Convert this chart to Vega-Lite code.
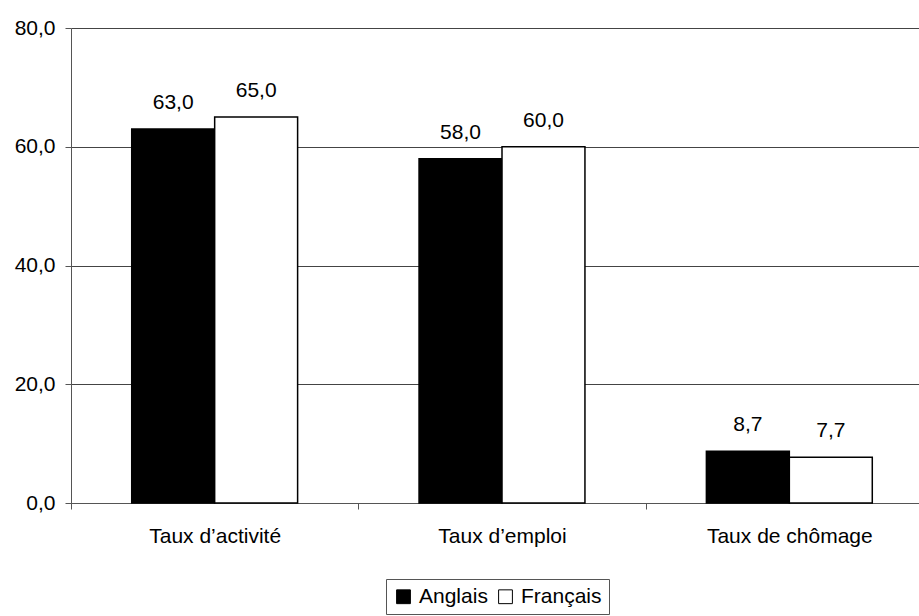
{
  "$schema": "https://vega.github.io/schema/vega-lite/v6.json",
  "width": 862,
  "height": 475,
  "autosize": {"type": "none"},
  "padding": {"left": 71, "top": 28, "right": 0, "bottom": 113},
  "background": "white",
  "config": {
    "locale": {"number": {"decimal": ",", "thousands": " ", "grouping": [3], "currency": ["", " €"]}},
    "view": {"stroke": null},
    "font": "Liberation Sans"
  },
  "data": {
    "values": [
      {"indicateur": "Taux d’activité", "groupe": "Anglais", "valeur": 63.0},
      {"indicateur": "Taux d’activité", "groupe": "Français", "valeur": 65.0},
      {"indicateur": "Taux d’emploi", "groupe": "Anglais", "valeur": 58.0},
      {"indicateur": "Taux d’emploi", "groupe": "Français", "valeur": 60.0},
      {"indicateur": "Taux de chômage", "groupe": "Anglais", "valeur": 8.7},
      {"indicateur": "Taux de chômage", "groupe": "Français", "valeur": 7.7}
    ]
  },
  "encoding": {
    "x": {
      "field": "indicateur",
      "type": "nominal",
      "sort": ["Taux d’activité", "Taux d’emploi", "Taux de chômage"],
      "scale": {"paddingInner": 0, "paddingOuter": 0},
      "axis": {
        "title": null,
        "labelAngle": 0,
        "tickBand": "extent",
        "ticks": true,
        "tickSize": 6,
        "tickColor": "#555555",
        "domainColor": "#555555",
        "labelFontSize": 21,
        "labelColor": "black",
        "labelPadding": 16,
        "grid": false
      }
    },
    "xOffset": {
      "field": "groupe",
      "type": "nominal",
      "sort": ["Anglais", "Français"],
      "scale": {"paddingInner": 0, "paddingOuter": 0.732}
    },
    "y": {
      "field": "valeur",
      "type": "quantitative",
      "scale": {"domain": [0, 80], "nice": false},
      "axis": {
        "title": null,
        "values": [0, 20, 40, 60, 80],
        "format": ".1f",
        "grid": true,
        "gridColor": "#444444",
        "gridOpacity": 1,
        "gridWidth": 1,
        "tickSize": 6,
        "tickColor": "#555555",
        "domainColor": "#555555",
        "labelFontSize": 21,
        "labelColor": "black",
        "labelPadding": 10
      }
    }
  },
  "layer": [
    {
      "mark": {"type": "bar", "stroke": "black", "strokeWidth": 1.5},
      "encoding": {
        "fill": {
          "field": "groupe",
          "type": "nominal",
          "sort": ["Anglais", "Français"],
          "scale": {"range": ["black", "white"]},
          "legend": {
            "title": null,
            "orient": "none",
            "legendX": 315,
            "legendY": 551,
            "direction": "horizontal",
            "strokeColor": "#555555",
            "padding": 7,
            "symbolType": "square",
            "symbolSize": 190,
            "symbolStrokeColor": "black",
            "symbolStrokeWidth": 1,
            "labelFontSize": 21,
            "labelColor": "black",
            "labelOffset": 5,
            "columnPadding": 7
          }
        }
      }
    },
    {
      "mark": {"type": "text", "dy": -20, "baseline": "alphabetic", "fontSize": 21, "color": "black"},
      "encoding": {
        "text": {"field": "valeur", "type": "quantitative", "format": ".1f"}
      }
    }
  ]
}
